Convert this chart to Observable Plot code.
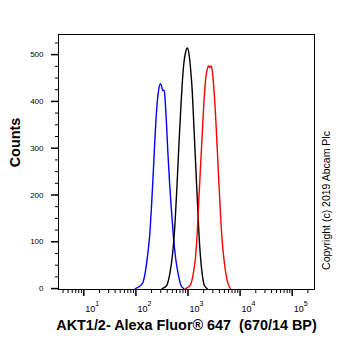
<!DOCTYPE html>
<html>
<head>
<meta charset="utf-8">
<script src="https://cdn.jsdelivr.net/npm/d3@7"></script>
<script src="https://cdn.jsdelivr.net/npm/@observablehq/plot@0.6"></script>
<style>
  html, body { margin: 0; padding: 0; background: #fff; }
</style>
</head>
<body>
<div id="chart"></div>
<script>
// Fluorescence intensity (x) and counts (y)
const blueX = [98, 132, 153, 169, 185, 199, 215, 231, 252, 275, 297, 314, 328, 349, 365, 387, 409, 441, 476, 520, 576, 649, 740, 830];
const blueY = [0, 10, 38, 74, 117, 174, 245, 316, 387, 426, 438, 431, 423, 424, 401, 352, 295, 230, 174, 117, 67, 31, 6, 0];

const blackX = [320, 387, 448, 498, 534, 576, 621, 666, 718, 774, 830, 895, 966, 1036, 1117, 1205, 1292, 1393, 1503, 1611, 1738, 1875, 2075, 2339];
const blackY = [0, 6, 32, 67, 102, 159, 230, 302, 373, 437, 480, 504, 514, 504, 472, 423, 352, 273, 195, 124, 67, 31, 6, 0];

const redX = [895, 1084, 1260, 1393, 1503, 1611, 1738, 1875, 2010, 2167, 2339, 2508, 2620, 2786, 2951, 3126, 3373, 3631, 3899, 4207, 4529, 5021, 5653, 6544];
const redY = [0, 6, 31, 67, 117, 188, 259, 330, 394, 444, 469, 476, 472, 476, 462, 430, 373, 302, 230, 159, 102, 53, 17, 0];

const seriesNames = ["blue", "black", "red"];
const seriesColors = ["#0b0bd0", "#000000", "#d41a1a"];

const yMajorTicks = [0, 100, 200, 300, 400, 500];
const yMinorTicks = [25, 50, 75, 125, 150, 175, 225, 250, 275, 325, 350, 375, 425, 450, 475, 525];
const xMajorTicks = [10, 100, 1000, 10000, 100000];
const xTickExponents = ["1", "2", "3", "4", "5"];
const xMinorTicks = [4, 5, 6, 7, 8, 9,
  20, 30, 40, 50, 60, 70, 80, 90,
  200, 300, 400, 500, 600, 700, 800, 900,
  2000, 3000, 4000, 5000, 6000, 7000, 8000, 9000,
  20000, 30000, 40000, 50000, 60000, 70000, 80000, 90000,
  200000];

const xLabel = "AKT1/2- Alexa Fluor\u00AE 647  (670/14 BP)";
const yLabel = "Counts";
const copyright = "Copyright (c) 2019 Abcam Plc";

const rows = [];
[[blueX, blueY], [blackX, blackY], [redX, redY]].forEach(([xs, ys], s) => {
  xs.forEach((x, i) => rows.push({series: seriesNames[s], x, y: ys[i]}));
});

const font = "'Liberation Sans', Arial, sans-serif";

const chart = Plot.plot({
  width: 362,
  height: 351,
  marginLeft: 58,
  marginRight: 48,
  marginTop: 34,
  marginBottom: 62,
  style: {fontFamily: font, background: "#fff", color: "#000", overflow: "visible"},
  x: {type: "log", domain: [3.27, 268000], axis: null},
  y: {domain: [-2, 543], axis: null},
  color: {domain: seriesNames, range: seriesColors},
  marks: [
    Plot.lineY(rows, {x: "x", y: "y", z: "series", stroke: "series", strokeWidth: 1.4, curve: "monotone-x"}),
    Plot.frame({stroke: "#000", strokeWidth: 1}),
    Plot.axisY(yMajorTicks, {tickSize: 7, tickPadding: 8, fontSize: 8, strokeWidth: 1.5, label: null}),
    Plot.axisY(yMinorTicks, {tickSize: 3, tickFormat: () => "", label: null}),
    Plot.axisX(xMajorTicks, {tickSize: 7, tickFormat: () => "", strokeWidth: 1.5, label: null}),
    Plot.axisX(xMinorTicks, {tickSize: 4, tickFormat: () => "", label: null}),
    Plot.text(xMajorTicks, {x: d => d, frameAnchor: "bottom", text: () => "10", textAnchor: "start", lineAnchor: "bottom", dx: 1.5, dy: 22.7, fontSize: 9}),
    Plot.text(xMajorTicks, {x: d => d, frameAnchor: "bottom", text: (d, i) => xTickExponents[i], textAnchor: "start", lineAnchor: "bottom", dx: 11.5, dy: 16.5, fontSize: 7}),
    Plot.text([xLabel], {text: d => d, frameAnchor: "bottom", textAnchor: "middle", lineAnchor: "bottom", dy: 40, fontSize: 14.4, fontWeight: "bold"}),
    Plot.text([yLabel], {text: d => d, frameAnchor: "left", textAnchor: "middle", lineAnchor: "middle", rotate: -90, dx: -43, dy: -19.5, fontSize: 14.4, fontWeight: "bold"}),
    Plot.text([copyright], {text: d => d, frameAnchor: "right", textAnchor: "middle", lineAnchor: "middle", rotate: -90, dx: 12, dy: 38.5, fontSize: 10.5})
  ]
});

document.getElementById("chart").appendChild(chart);
</script>
</body>
</html>
